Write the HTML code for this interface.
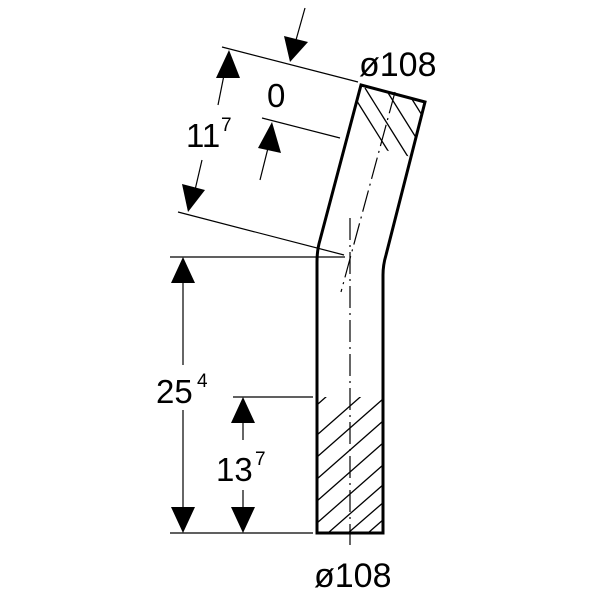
<!DOCTYPE html>
<html><head><style>body{margin:0;background:#fff}svg{display:block}text{font-family:"Liberation Sans",sans-serif;fill:#000}</style></head><body>
<svg width="600" height="600" viewBox="0 0 600 600">
<defs><clipPath id="ct"><polygon points="361,85 425,102 411,157 347,140"/></clipPath>
<clipPath id="cb"><rect x="317" y="397" width="66" height="136"/></clipPath></defs>
<g stroke="#000" fill="none" stroke-width="3">
<path d="M317,533 L317,262 Q317,250 320,240 L361,85 L425,102 L386,255 Q383,265 383,275 L383,533 Z"/>
</g>
<g stroke="#000" stroke-width="1.3" clip-path="url(#ct)">
<line x1="350" y1="90" x2="400" y2="170"/><line x1="365" y1="88" x2="415" y2="168"/><line x1="385" y1="88" x2="435" y2="168"/><line x1="405" y1="88" x2="455" y2="168"/>
</g>
<g stroke="#000" stroke-width="1.3" clip-path="url(#cb)">
<line x1="300" y1="420" x2="345" y2="380"/><line x1="300" y1="450" x2="400" y2="362"/><line x1="300" y1="472" x2="400" y2="384"/><line x1="300" y1="494" x2="400" y2="406"/><line x1="300" y1="516" x2="400" y2="428"/><line x1="300" y1="538" x2="400" y2="450"/><line x1="320" y1="540" x2="400" y2="470"/><line x1="340" y1="540" x2="400" y2="488"/><line x1="360" y1="540" x2="400" y2="505"/>
</g>
<g stroke="#000" stroke-width="1.2" fill="none">
<line x1="350" y1="218" x2="350" y2="545" stroke-dasharray="22,5,2,5"/>
<line x1="395" y1="92" x2="341" y2="292" stroke-dasharray="22,5,2,5"/>
<line x1="222" y1="47" x2="358" y2="82"/>
<line x1="178" y1="212" x2="344" y2="255"/>
<line x1="262" y1="118" x2="340" y2="138"/>
<line x1="170" y1="257" x2="345" y2="257"/>
<line x1="233" y1="397" x2="313" y2="397"/>
<line x1="170" y1="533" x2="313" y2="533"/>
<line x1="183" y1="280" x2="183" y2="365"/><line x1="183" y1="410" x2="183" y2="510"/>
<line x1="243" y1="420" x2="243" y2="440"/><line x1="243" y1="490" x2="243" y2="510"/>
<line x1="224" y1="75" x2="218" y2="105"/><line x1="202" y1="160" x2="195" y2="190"/>
<line x1="305" y1="8" x2="296" y2="40"/>
<line x1="268" y1="148" x2="260" y2="180"/>
</g>
<g fill="#000">
<polygon points="183,257 171,283 195,283"/><polygon points="183,533 171,507 195,507"/>
<polygon points="243,397 231,423 255,423"/><polygon points="243,533 231,507 255,507"/>
<polygon points="229,50 216,78 240,78"/><polygon points="188,212 182,184 205,190"/>
<polygon points="290,62 284,36 308,42"/><polygon points="272,122 258,148 281,153"/>
</g>
<text x="359" y="76" font-size="34">ø108</text>
<text x="267" y="107" font-size="33">0</text>
<text x="186" y="147" font-size="33">11</text><text x="221" y="131" font-size="19">7</text>
<text x="156" y="403" font-size="33">25</text><text x="197" y="387" font-size="19">4</text>
<text x="216" y="481" font-size="33">13</text><text x="255" y="465" font-size="19">7</text>
<text x="314" y="587" font-size="34">ø108</text>
</svg>
</body></html>
